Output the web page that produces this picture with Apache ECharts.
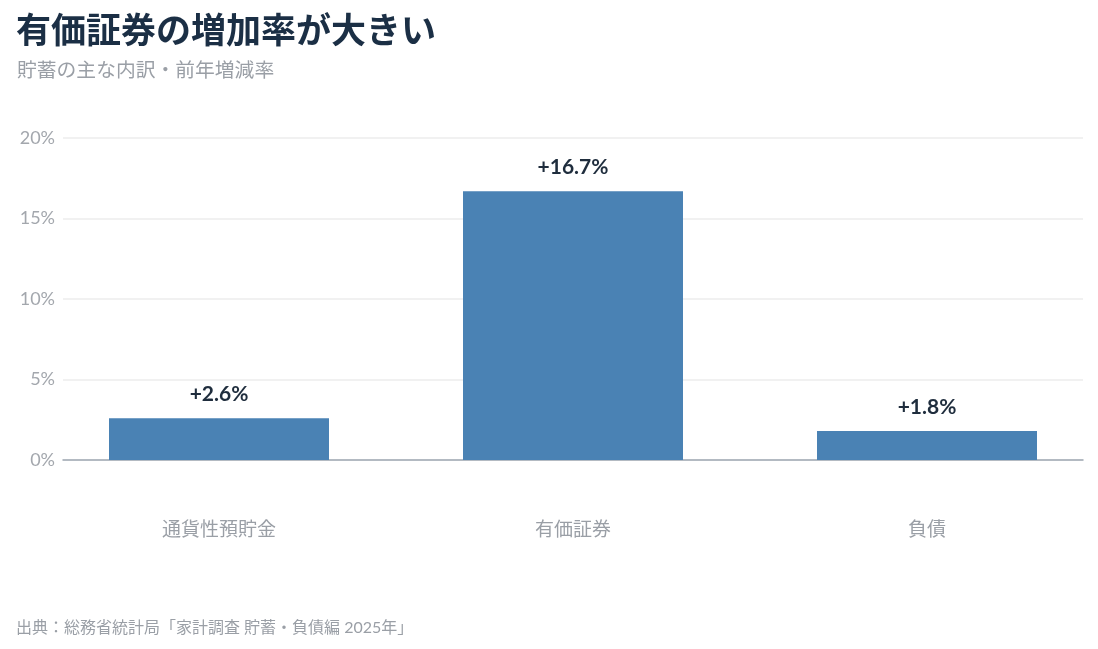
<!DOCTYPE html>
<html>
<head>
<meta charset="utf-8">
<script src="https://cdn.jsdelivr.net/npm/echarts@6/dist/echarts.min.js"></script>
<style>
  html, body { margin: 0; padding: 0; background: #fff; }
  .box { width: 1098px; height: 649px; }
</style>
</head>
<body>
<div class="box"></div>
<script>
// 貯蓄の主な内訳・前年増減率
var categories = ["通貨性預貯金", "有価証券", "負債"];
var rates = [2.6, 16.7, 1.8];
var yTicks = [0, 5, 10, 15, 20];

(function () {
    var myChart = echarts.init(document.querySelector(".box"));
    var font = "Lato, 'Noto Sans CJK JP', sans-serif";
    var yMin = yTicks[0], yMax = yTicks[yTicks.length - 1];

    var option = {
        textStyle: { fontFamily: font },
        title: [
            {
                text: "有価証券の増加率が大きい",
                left: 11,
                top: 9,
                textStyle: { fontSize: 35, fontWeight: "bold", color: "#1b2f45", fontFamily: font }
            },
            {
                text: "貯蓄の主な内訳・前年増減率",
                left: 12,
                top: 56,
                textStyle: { fontSize: 19.8, fontWeight: "normal", color: "#9a9fa6", fontFamily: font }
            },
            {
                text: "出典：総務省統計局「家計調査 貯蓄・負債編 2025年」",
                left: 11,
                top: 615,
                textStyle: { fontSize: 16, fontWeight: "normal", color: "#9a9fa6", fontFamily: font }
            }
        ],
        // grid 0: 目盛りと軸線、grid 1: 棒（外側の余白を狭める）
        grid: [
            { left: 63, right: 15, top: 138, bottom: 189, outerBoundsMode: "none" },
            { left: 42, width: 1062, top: 138, bottom: 189, outerBoundsMode: "none" }
        ],
        xAxis: [
            {
                type: "category",
                gridIndex: 0,
                data: categories,
                axisLine: { lineStyle: { color: "#9ea8b2", width: 1.5 } },
                axisTick: { show: false },
                axisLabel: { show: false }
            },
            {
                type: "category",
                gridIndex: 1,
                data: categories,
                axisLine: { show: false },
                axisTick: { show: false },
                axisLabel: { color: "#9a9fa6", fontSize: 19, margin: 60, fontFamily: font }
            }
        ],
        yAxis: [
            {
                type: "value",
                gridIndex: 0,
                min: yMin,
                max: yMax,
                interval: 5,
                axisLine: { show: false },
                axisTick: { show: false },
                splitLine: { lineStyle: { color: "#ececec", width: 1.5 } },
                axisLabel: {
                    color: "#a3a7ad",
                    fontSize: 18,
                    margin: 8,
                    fontFamily: font,
                    formatter: "{value}%"
                }
            },
            {
                type: "value",
                gridIndex: 1,
                min: yMin,
                max: yMax,
                interval: 5,
                show: false
            }
        ],
        series: [
            {
                type: "bar",
                xAxisIndex: 1,
                yAxisIndex: 1,
                data: rates,
                barWidth: 220,
                itemStyle: { color: "#4a82b4" },
                label: {
                    show: true,
                    position: "top",
                    distance: 13,
                    color: "#1f2d3d",
                    fontSize: 21,
                    fontWeight: "bold",
                    fontFamily: font,
                    formatter: function (p) { return "+" + p.value.toFixed(1) + "%"; }
                }
            }
        ]
    };

    myChart.setOption(option);

    window.addEventListener("resize", function () {
        myChart.resize();
    });
})();
</script>
</body>
</html>
